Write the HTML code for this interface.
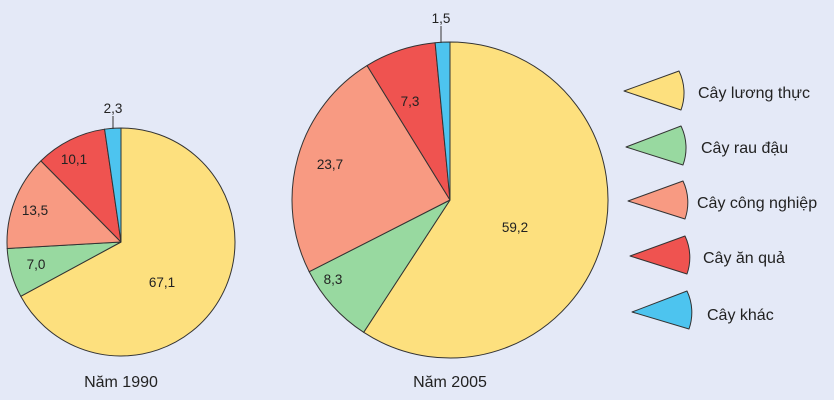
<!DOCTYPE html>
<html><head><meta charset="utf-8"><style>
html,body{margin:0;padding:0;background:#e4e9f7;}
svg{display:block;font-family:"Liberation Sans",sans-serif;}
</style></head><body>
<svg id="s" width="834" height="400" xmlns="http://www.w3.org/2000/svg">
<rect width="834" height="400" fill="#e4e9f7"/>
<g id="p1"></g><g id="p2"></g>
<g font-size="13.5" fill="#222" text-anchor="middle">
<text x="162" y="287">67,1</text>
<text x="36" y="269">7,0</text>
<text x="35" y="215">13,5</text>
<text x="74" y="164">10,1</text>
<text x="113" y="113">2,3</text>
<line x1="113" y1="116" x2="113" y2="129" stroke="#333" stroke-width="1"/>
<text x="515" y="232">59,2</text>
<text x="333" y="284">8,3</text>
<text x="330" y="169">23,7</text>
<text x="410" y="106">7,3</text>
<text x="441" y="23">1,5</text>
<line x1="441" y1="26" x2="441" y2="43" stroke="#333" stroke-width="1"/>
</g>
<g font-size="16" fill="#222" text-anchor="middle">
<text x="121" y="387">Năm 1990</text>
<text x="450" y="387">Năm 2005</text>
</g>
<g stroke="#333" stroke-width="1" stroke-linejoin="round">
<path d="M624 91 L679 71 A50 50 0 0 1 681 110 Z" fill="#fde07e"/>
<path d="M626 147 L681 126 A50 50 0 0 1 683 165 Z" fill="#98d9a0"/>
<path d="M628 201 L683 181 A50 50 0 0 1 685 219 Z" fill="#f89a82"/>
<path d="M630 256 L685 236 A50 50 0 0 1 687 274 Z" fill="#ef5350"/>
<path d="M632 312 L687 291 A50 50 0 0 1 689 329 Z" fill="#4dc4ef"/>
</g>
<g font-size="16" fill="#222">
<text x="698" y="98">Cây lương thực</text>
<text x="701" y="153">Cây rau đậu</text>
<text x="697" y="208">Cây công nghiệp</text>
<text x="703" y="263">Cây ăn quả</text>
<text x="707" y="320">Cây khác</text>
</g>
</svg>
<script>
var cols=["#fde07e","#98d9a0","#f89a82","#ef5350","#4dc4ef"];
function pie(id,cx,cy,r,vals){
 var g=document.getElementById(id),a=-Math.PI/2,h="";
 vals.forEach(function(v,i){
  var b=a+v/100*2*Math.PI;
  var x1=cx+r*Math.cos(a),y1=cy+r*Math.sin(a),x2=cx+r*Math.cos(b),y2=cy+r*Math.sin(b);
  h+='<path d="M'+cx+' '+cy+' L'+x1+' '+y1+' A'+r+' '+r+' 0 '+(b-a>Math.PI?1:0)+' 1 '+x2+' '+y2+' Z" fill="'+cols[i]+'" stroke="#333" stroke-width="1" stroke-linejoin="round"/>';
  a=b;});
 g.innerHTML=h;}
pie("p1",121,242,114,[67.1,7.0,13.5,10.1,2.3]);
pie("p2",450,200,158,[59.2,8.3,23.7,7.3,1.5]);
</script>
</body></html>
